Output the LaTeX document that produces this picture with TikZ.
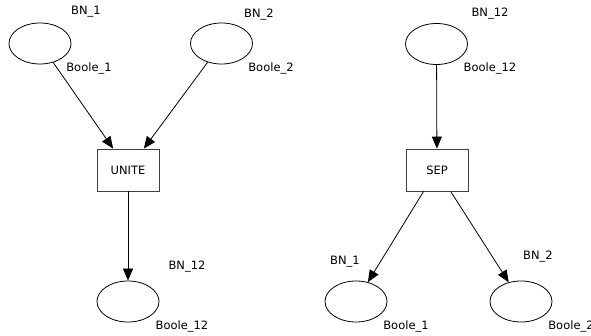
\documentclass[tikz,border=0pt]{standalone}
\usepackage{fontspec}
\setmainfont{DejaVu Sans}
\usetikzlibrary{arrows.meta}
\usetikzlibrary{positioning}
\usetikzlibrary{shapes.geometric}

\tikzset{
	place/.style={draw, ellipse, line width=0.8pt, minimum width=62pt, minimum height=41pt, inner sep=0pt},
	trans/.style={draw, rectangle, line width=0.8pt, draw=black!75, minimum width=62pt, minimum height=42pt, inner sep=0pt, font=\fontsize{11.5}{13}\selectfont},
	tag/.style={font=\fontsize{11.5}{13}\selectfont, inner sep=0pt},
	arc/.style={-{Triangle[length=12pt,width=10pt]}, line width=0.8pt},
}

\begin{document}
\begin{tikzpicture}[x=1pt,y=-1pt]
	\useasboundingbox (0,0) rectangle (591,336);
	% UNITE
	\node[place] (bnA) at (40,43.5) {};
	\node[tag] (bnAname) at (86,12) {BN\_1};
	\node[tag] (bnAtype) at (89,68) {Boole\_1};
	\node[place] (bnB) at (221.5,43.5) {};
	\node[tag] (bnBname) at (259,15) {BN\_2};
	\node[tag] (bnBtype) at (271,68) {Boole\_2};
	\node[trans] (unite) at (128,170) {UNITE};
	\node[place] (bnC) at (128,301.5) {};
	\node[tag] (bnCname) at (187,267) {BN\_12};
	\node[tag] (bnCtype) at (182,326) {Boole\_12};
	\draw[arc] (bnA) -- (unite);
	\draw[arc] (bnB) -- (unite);
	\draw[arc] (unite) -- (bnC);
	% SEP
	\node[place] (bnD) at (436.5,44) {};
	\node[tag] (bnDname) at (490,14) {BN\_12};
	\node[tag] (bnDtype) at (490,68) {Boole\_12};
	\node[trans] (sep) at (437,170) {SEP};
	\node[place] (bnE) at (356,301.5) {};
	\node[tag] (bnEname) at (345,262) {BN\_1};
	\node[tag] (bnEtype) at (406,326) {Boole\_1};
	\node[place] (bnF) at (521,301.5) {};
	\node[tag] (bnFname) at (538,257) {BN\_2};
	\node[tag] (bnFtype) at (571,326) {Boole\_2};
	\draw[arc] (bnD) -- (sep);
	\draw[arc] (sep.south west) ++(18,0) -- (bnE);
	\draw[arc] (sep) -- (bnF);
\end{tikzpicture}
\end{document}
